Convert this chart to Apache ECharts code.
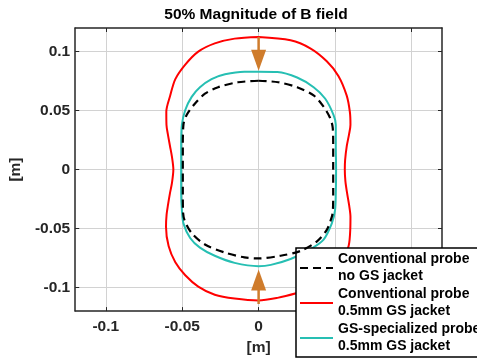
<!DOCTYPE html>
<html>
<head>
<meta charset="utf-8">
<script src="https://cdn.jsdelivr.net/npm/echarts@6/dist/echarts.min.js"></script>
<style>
  html, body { margin: 0; padding: 0; background: #fff; }
  #main { width: 477px; height: 361px; }
</style>
</head>
<body>
<div id="main"></div>
<script>
// tick positions for both axes
var tickValues = [-0.1, -0.05, 0, 0.05, 0.1];

var seriesNames = [
  'Conventional probe\nno GS jacket',
  'Conventional probe\n0.5mm GS jacket',
  'GS-specialized probe\n0.5mm GS jacket'
];

// contour points [x, y], clockwise from the top
var noJacket = [
  [0, 0.0753], [0.0129, 0.074], [0.0252, 0.0698], [0.036, 0.0629], [0.0425, 0.0533],
  [0.0468, 0.0437], [0.0485, 0.0354], [0.0488, 0.02], [0.0488, 0], [0.0488, -0.02],
  [0.0486, -0.035], [0.0479, -0.0401], [0.0446, -0.0511], [0.0382, -0.0608], [0.0274, -0.069],
  [0.0144, -0.0731], [0, -0.0753], [-0.0093, -0.0745], [-0.0222, -0.0703], [-0.0351, -0.0635],
  [-0.0438, -0.0539], [-0.0485, -0.0429], [-0.0495, -0.035], [-0.0496, -0.02], [-0.0496, 0],
  [-0.0496, 0.02], [-0.0492, 0.038], [-0.047, 0.0464], [-0.0416, 0.056], [-0.0351, 0.0643],
  [-0.0265, 0.0698], [-0.0136, 0.074], [0, 0.0753]
];

var convJacket = [
  [0, 0.1124], [0.0209, 0.1096], [0.0338, 0.1028], [0.0446, 0.0918], [0.0522, 0.0794],
  [0.0576, 0.0629], [0.0597, 0.049], [0.0601, 0.038], [0.0592, 0.03],
  [0.0577, 0.02], [0.0566, 0.008], [0.0564, 0], [0.0568, -0.01], [0.0579, -0.02],
  [0.0592, -0.03], [0.0601, -0.04], [0.06, -0.05], [0.0589, -0.0649], [0.0545, -0.0786],
  [0.048, -0.0896], [0.0395, -0.0992], [0.0252, -0.1047], [0.0123, -0.1088], [0, -0.111],
  [-0.0157, -0.1094], [-0.0287, -0.1061], [-0.0395, -0.0992], [-0.048, -0.0896], [-0.0545, -0.0786],
  [-0.0589, -0.0649], [-0.0606, -0.0484], [-0.0602, -0.038], [-0.0593, -0.03], [-0.058, -0.02],
  [-0.0567, -0.0113], [-0.0558, 0], [-0.0567, 0.0107], [-0.058, 0.02], [-0.0594, 0.03],
  [-0.0603, 0.038], [-0.0604, 0.049], [-0.0578, 0.0629], [-0.0545, 0.0767], [-0.048, 0.089],
  [-0.0395, 0.1], [-0.0287, 0.107], [-0.0157, 0.111], [0, 0.1124]
];

var gsProbe = [
  [0, 0.083], [0.0123, 0.0827], [0.0252, 0.078], [0.036, 0.0698], [0.0435, 0.0602],
  [0.049, 0.0464], [0.0505, 0.038], [0.0505, 0.02], [0.0507, 0], [0.0505, -0.02],
  [0.05, -0.0346], [0.0479, -0.0456], [0.0425, -0.0594], [0.0338, -0.0676], [0.0209, -0.0758],
  [0.008, -0.0808], [0, -0.0819], [-0.0157, -0.0791], [-0.0287, -0.0731], [-0.0384, -0.0662],
  [-0.0448, -0.058], [-0.0492, -0.0456], [-0.0502, -0.0346], [-0.0507, -0.02], [-0.0507, 0],
  [-0.0507, 0.02], [-0.0502, 0.038], [-0.048, 0.0505], [-0.0438, 0.0616], [-0.0384, 0.0698],
  [-0.0308, 0.0767], [-0.022, 0.0808], [-0.0093, 0.083], [0, 0.083]
];

// arrows: shafts and heads (head centre, rotation)
var arrowTopShaft = [[0, 0.1124], [0, 0.1]];
var arrowBottomShaft = [[0, -0.114], [0, -0.1]];
var arrowHeads = [
  { value: [0, 0.0927], symbolRotate: 180 },
  { value: [0, -0.0937], symbolRotate: 0 }
];

var FONT = 'Liberation Sans, Arial, sans-serif';
var DARK = '#262626';
var ORANGE = '#CF7C2C';

var chart = echarts.init(document.getElementById('main'));

var xBase = {
  type: 'value', min: -0.12, max: 0.12,
  axisLine: { show: true, onZero: false, lineStyle: { color: DARK, width: 1.5 } },
  axisTick: { show: true, inside: true, length: 4, customValues: tickValues, lineStyle: { color: DARK } },
  splitLine: { show: false }
};
var yBase = {
  type: 'value', min: -0.12, max: 0.12,
  axisLine: { show: true, onZero: false, lineStyle: { color: DARK, width: 1.5 } },
  axisTick: { show: true, inside: true, length: 4, customValues: tickValues, lineStyle: { color: DARK } },
  splitLine: { show: false }
};

var option = {
  animation: false,
  title: {
    text: '50% Magnitude of B field',
    left: 256, top: 7, padding: 0,
    textAlign: 'center',
    textStyle: { fontFamily: FONT, fontSize: 15.5, fontWeight: 'bold', color: '#000' }
  },
  grid: { left: 70, right: 35, top: 28, bottom: 43 },
  legend: {
    data: seriesNames,
    orient: 'vertical',
    left: 296, top: 248,
    padding: [3, 6, 2, 3],
    itemGap: 1,
    itemWidth: 33, itemHeight: 14,
    backgroundColor: '#fff',
    borderColor: '#000', borderWidth: 1.5,
    itemStyle: { color: 'rgba(0,0,0,0)', borderWidth: 0 },
    textStyle: { fontFamily: FONT, fontSize: 14, fontWeight: 'bold', color: '#000', lineHeight: 17 }
  },
  xAxis: [
    Object.assign({}, xBase, {
      position: 'bottom',
      name: '[m]', nameLocation: 'middle', nameGap: 26,
      nameTextStyle: { fontFamily: FONT, fontSize: 15.5, fontWeight: 'bold', color: DARK },
      axisLabel: {
        customValues: tickValues, margin: 8,
        fontFamily: FONT, fontSize: 15.5, fontWeight: 'bold', color: DARK,
        formatter: function (v) { return String(+v.toFixed(2)); }
      },
      splitLine: { show: true, lineStyle: { color: '#d2d2d2', width: 1 } }
    }),
    Object.assign({}, xBase, { position: 'top', axisLabel: { show: false } })
  ],
  yAxis: [
    Object.assign({}, yBase, {
      position: 'left',
      name: '[m]', nameLocation: 'middle', nameGap: 46, nameRotate: 90,
      nameTextStyle: { fontFamily: FONT, fontSize: 15.5, fontWeight: 'bold', color: DARK },
      axisLabel: {
        customValues: tickValues, margin: 5,
        fontFamily: FONT, fontSize: 15.5, fontWeight: 'bold', color: DARK,
        formatter: function (v) { return String(+v.toFixed(2)); }
      },
      splitLine: { show: true, lineStyle: { color: '#d2d2d2', width: 1 } }
    }),
    Object.assign({}, yBase, { position: 'right', axisLabel: { show: false } })
  ],
  series: [
    {
      name: seriesNames[1], type: 'line', data: convJacket,
      symbol: 'none', smooth: 0.3, z: 3,
      color: '#FF0000', lineStyle: { color: '#FF0000', width: 2 }
    },
    {
      name: seriesNames[2], type: 'line', data: gsProbe,
      symbol: 'none', smooth: 0.3, z: 3,
      color: '#26BFB3', lineStyle: { color: '#26BFB3', width: 2 }
    },
    {
      name: seriesNames[0], type: 'line', data: noJacket,
      symbol: 'none', smooth: 0.3, z: 4,
      color: '#000', lineStyle: { color: '#000', width: 2.2, type: [8, 5] }
    },
    {
      name: 'arrowTop', type: 'line', data: arrowTopShaft,
      symbol: 'none', z: 5, silent: true,
      lineStyle: { color: ORANGE, width: 2.5 }
    },
    {
      name: 'arrowBottom', type: 'line', data: arrowBottomShaft,
      symbol: 'none', z: 5, silent: true,
      lineStyle: { color: ORANGE, width: 2.5 }
    },
    {
      name: 'arrowHeads', type: 'scatter', data: arrowHeads,
      symbol: 'triangle', symbolSize: [15, 21], z: 5, silent: true,
      itemStyle: { color: ORANGE, opacity: 1 }
    }
  ]
};

chart.setOption(option);
</script>
</body>
</html>
